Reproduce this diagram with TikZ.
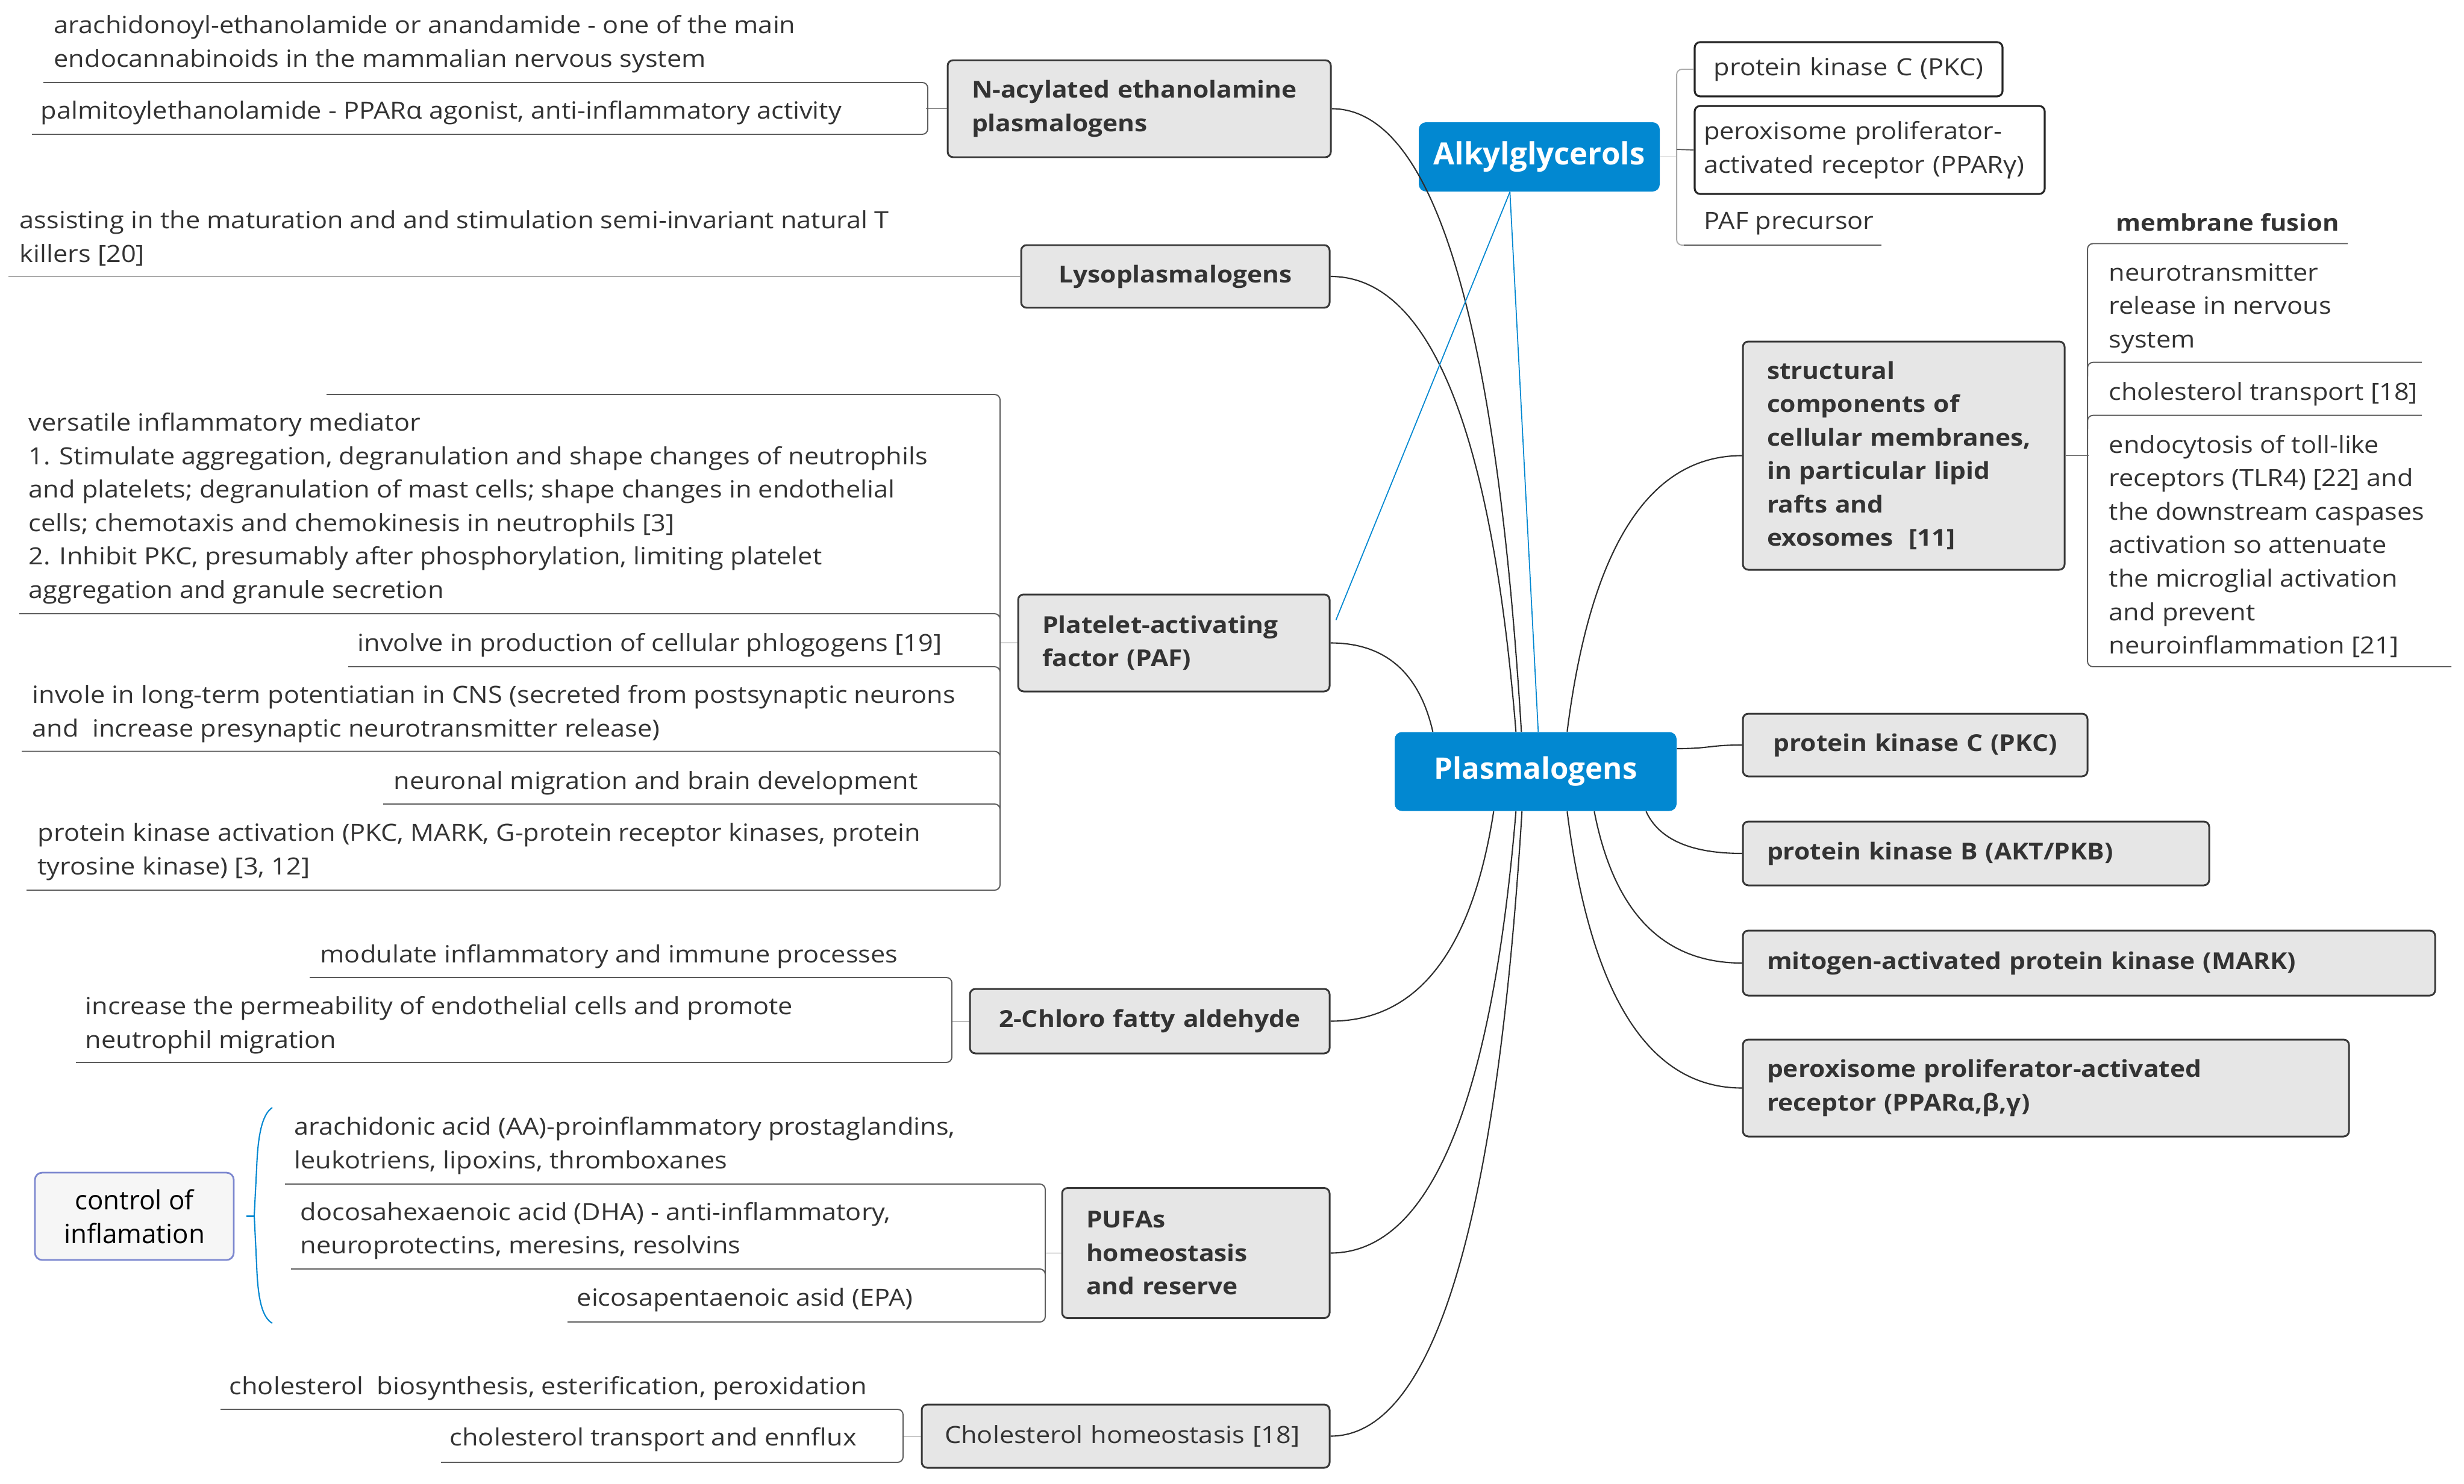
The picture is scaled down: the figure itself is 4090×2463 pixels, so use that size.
\documentclass[tikz,border=0pt]{standalone}
\usepackage{fontspec}
\setmainfont{Open Sans}[FakeStretch=1.1]
\newfontfamily\plainfont{Open Sans}
\usetikzlibrary{calc}
\definecolor{boxfill}{HTML}{E6E6E6}
\definecolor{boxline}{HTML}{383838}
\definecolor{xblue}{HTML}{0288D1}
\definecolor{txt}{HTML}{333333}
\definecolor{ulc}{HTML}{5C5C5C}
\definecolor{ullight}{HTML}{ABABAB}
\definecolor{ctrlline}{HTML}{7C87CF}
\definecolor{ctrlfill}{HTML}{F6F6F6}
\newcommand\leaffont{\fontsize{11.2pt}{15.8pt}\selectfont}
\newcommand\boxfont{\fontsize{11pt}{15.8pt}\selectfont\bfseries}
\newcommand\xconn[2]{\draw[conn] let \p1=(#1), \p2=(#2) in (\p1) .. controls ({\x1+0.533*(\x2-\x1)},\y1) and ({\x2-0.133*(\x2-\x1)},{\y2+0.667*(\y1-\y2)}) .. (\p2);}
\begin{document}
\begin{tikzpicture}[x=0.1mm,y=-0.1mm,
  leaf/.style={anchor=west, align=left, inner sep=0pt, text=txt, font=\leaffont},
  gbox/.style={draw=boxline, fill=boxfill, line width=0.85pt, rounded corners=0.9mm, inner xsep=4mm, inner ysep=0pt, text=txt, font=\boxfont, align=left},
  wbox/.style={draw=black!85, fill=white, line width=0.9pt, rounded corners=0.9mm, inner ysep=0pt, text=txt, font=\leaffont},
  bbox/.style={fill=xblue, rounded corners=1.2mm, text=white, font=\plainfont\fontsize{14pt}{17pt}\selectfont\bfseries, inner sep=0pt},
  ul/.style={draw=ulc, line width=0.55pt, rounded corners=0.9mm},
  ull/.style={draw=ullight, line width=0.55pt, rounded corners=0.9mm},
  conn/.style={draw=black!82, line width=0.6pt},
  bl/.style={draw=xblue, line width=0.5pt},
]
\useasboundingbox (0,0) rectangle (4090,2463);

% central nodes
\node[bbox, minimum width=46.8mm, minimum height=13.1mm] (plas) at (2549,1281) {Plasmalogens};
\node[bbox, minimum width=40mm, minimum height=11.5mm, font=\plainfont\fontsize{14.5pt}{17pt}\selectfont\bfseries] (alkyl) at (2555,260.5) {Alkylglycerols};

% left boxes
\node[gbox, text width=55.6mm, minimum height=16.1mm] (nacyl) at (1891,180.5) {N-acylated ethanolamine\\plasmalogens};
\node[gbox, text width=43.2mm, minimum height=10.4mm, align=center] (lyso) at (1951,459) {Lysoplasmalogens};
\node[gbox, text width=43.7mm, minimum height=16.1mm] (paf) at (1948.5,1067.5) {Platelet-activating\\factor (PAF)};
\node[gbox, text width=51.7mm, minimum height=10.7mm, align=center] (chloro) at (1908.5,1695.5) {2-Chloro fatty aldehyde};
\node[gbox, text width=36.4mm, minimum height=21.6mm] (pufa) at (1985,2080.5) {PUFAs\\homeostasis\\and reserve};
\node[gbox, text width=60.1mm, inner xsep=3.8mm, minimum height=10.5mm, font=\leaffont] (chol) at (1868.5,2384.5) {Cholesterol homeostasis [18]};

% right boxes
\node[gbox, text width=45.4mm, minimum height=37.9mm] (struct) at (3160,756.5) {structural\\components of\\cellular membranes,\\in particular lipid\\rafts and\\exosomes\ \ [11]};
\node[gbox, text width=49.2mm, minimum height=10.4mm, align=center] (pkc) at (3179,1237) {protein kinase C (PKC)};
\node[gbox, text width=69.4mm, minimum height=10.6mm] (pkb) at (3280,1417) {protein kinase B (AKT/PKB)};
\node[gbox, text width=106.9mm, minimum height=10.8mm] (mark) at (3467.5,1599) {mitogen-activated protein kinase (MARK)};
\node[gbox, text width=92.6mm, minimum height=16.1mm] (ppar) at (3396,1806.5) {peroxisome proliferator-activated\\receptor (PPARα,β,γ)};
\node[wbox, inner xsep=2mm, text width=47.1mm, align=center, minimum height=9mm] (apkc) at (3068.5,115) {protein kinase C (PKC)};
\node[wbox, inner xsep=1.5mm, text width=55.1mm, align=left, minimum height=14.6mm] (appar) at (3103.5,249) {peroxisome proliferator-\\activated receptor (PPARγ)};

% control box
\node[draw=ctrlline, fill=ctrlfill, line width=0.8pt, rounded corners=1.2mm, minimum width=33mm, minimum height=14.5mm, align=center, font=\plainfont\fontsize{12.5pt}{16pt}\selectfont, text=black, inner sep=0pt] (ctrl) at (223,2019.5) {control of\\inflamation};

% leaves
\node[leaf] (a1) at (89,73) {arachidonoyl-ethanolamide or anandamide - one of the main\\endocannabinoids in the mammalian nervous system};
\node[leaf] (a2) at (67,187) {palmitoylethanolamide - PPARα agonist, anti-inflammatory activity};
\node[leaf] (b1) at (32,395.5) {assisting in the maturation and and stimulation semi-invariant natural T\\killers [20]};
\node[leaf] (c1) at (47,844) {versatile inflammatory mediator\\1. Stimulate aggregation, degranulation and shape changes of neutrophils\\and platelets; degranulation of mast cells; shape changes in endothelial\\cells; chemotaxis and chemokinesis in neutrophils [3]\\2. Inhibit PKC, presumably after phosphorylation, limiting platelet\\aggregation and granule secretion};
\node[leaf] (c2) at (593,1071) {involve in production of cellular phlogogens [19]};
\node[leaf] (c3) at (53,1185) {invole in long-term potentiatian in CNS (secreted from postsynaptic neurons\\and\ \ increase presynaptic neurotransmitter release)};
\node[leaf] (c4) at (653,1300) {neuronal migration and brain development};
\node[leaf] (c5) at (62,1414) {protein kinase activation (PKC, MARK, G-protein receptor kinases, protein\\tyrosine kinase) [3, 12]};
\node[leaf] (d1) at (531,1588) {modulate inflammatory and immune processes};
\node[leaf] (d2) at (141,1702) {increase the permeability of endothelial cells and promote\\neutrophil migration};
\node[leaf] (e1) at (488,1902) {arachidonic acid (AA)-proinflammatory prostaglandins,\\leukotriens, lipoxins, thromboxanes};
\node[leaf] (e2) at (498,2043.5) {docosahexaenoic acid (DHA) - anti-inflammatory,\\neuroprotectins, meresins, resolvins};
\node[leaf] (e3) at (957,2158.5) {eicosapentaenoic asid (EPA)};
\node[leaf] (f1) at (380,2304.7) {cholesterol\ \ biosynthesis, esterification, peroxidation};
\node[leaf] (f2) at (746,2390.6) {cholesterol transport and ennflux};
\node[leaf] (h1) at (2828,371) {PAF precursor};
\node[leaf, font=\fontsize{10.8pt}{15.8pt}\selectfont\bfseries] (g0) at (3512,369) {membrane fusion};
\node[leaf] (g1) at (3500,512) {neurotransmitter\\release in nervous\\system};
\node[leaf] (g2) at (3500,654) {cholesterol transport [18]};
\node[leaf] (g3) at (3500,907) {endocytosis of toll-like\\receptors (TLR4) [22] and\\the downstream caspases\\activation so attenuate\\the microglial activation\\and prevent\\neuroinflammation [21]};

% brackets / underlines
\draw[ul] (72,137) -- (1540,137) -- (1540,223) -- (53,223);
\draw[ul] ($(nacyl.west)+(-35,0)$) -- (nacyl.west);
\coordinate (lysoend) at (14,459);
\draw[ull] (lysoend) -- (lyso.west);
\draw[ul] (542,655) -- (1660,655) -- (1660,1478) -- (44,1478);
\draw[ul] (32,1019) -| (1660,1045);
\draw[ul] (578,1107) -| (1660,1130);
\draw[ul] (36,1247.5) -| (1660,1270);
\draw[ul] (636,1335) -| (1660,1360);
\draw[ul] ($(paf.west)+(-30,0)$) -- (paf.west);
\draw[ul] (514,1623) -- (1580,1623) -- (1580,1764) -- (126,1764);
\draw[ul] ($(chloro.west)+(-30,0)$) -- (chloro.west);
\draw[ul] (473,1966) -- (1735,1966) -- (1735,2195) -- (942,2195);
\draw[ul] (483,2107) -| (1735,2130);
\draw[ul] ($(pufa.west)+(-28,0)$) -- (pufa.west);
\draw[ul] (366,2340) -- (1499,2340) -- (1499,2428) -- (732,2428);
\draw[ul] ($(chol.west)+(-31,0)$) -- (chol.west);
\draw[ull] (apkc.west) -- (2783,115) -- (2783,407) -- (2800,407);
\draw[ul] (2795,407) -- (3123,407);
\draw[ull] (alkyl.east) -- (2783,260.5);
\draw[ul] (2783,248) -- (appar.west);
\draw[ul] (3897,404.5) -- (3465,404.5) -- (3465,1107) -- (4069,1107);
\draw[ul] (4020,601.7) -| (3465,625);
\draw[ul] (4020,689.7) -| (3465,712);
\draw[ul] (struct.east) -- ++(38,0);

% curly bracket for control of inflamation
\draw[xblue, line width=0.6pt] (452,1839) .. controls (435,1850) and (428,1885) .. (426,1940) -- (422,2018) -- (426,2100) .. controls (428,2160) and (436,2188) .. (452,2197);
\draw[xblue, line width=0.9pt] (ctrl.east) ++(20,0) -- (422,2019.5);

% anchor points on Plasmalogens
\coordinate (pt1) at ($(plas.north west)+(64,0)$);
\coordinate (pt2) at ($(plas.north west)+(202,0)$);
\coordinate (pt3) at ($(plas.north west)+(211,0)$);
\coordinate (pt4) at ($(plas.north west)+(287,0)$);
\coordinate (pb1) at ($(plas.south west)+(165,0)$);
\coordinate (pb2) at ($(plas.south west)+(202,0)$);
\coordinate (pb3) at ($(plas.south west)+(212,0)$);
\coordinate (pb4) at ($(plas.south west)+(287,0)$);
\coordinate (pb5) at ($(plas.south west)+(332,0)$);
\coordinate (pb6) at ($(plas.south west)+(418,0)$);

\xconn{nacyl.east}{pt3}
\xconn{lyso.east}{pt2}
\xconn{paf.east}{pt1}
\xconn{struct.west}{pt4}
\xconn{chloro.east}{pb1}
\xconn{pufa.east}{pb2}
\xconn{chol.east}{pb3}
\xconn{ppar.west}{pb4}
\xconn{mark.west}{pb5}
\xconn{pkb.west}{pb6}
\draw[conn] ($(plas.east)+(0,-38)$) .. controls +(55,0) and +(-55,0) .. (pkc.west);

% blue links from Alkylglycerols
\coordinate (ab) at ($(alkyl.south west)+(152,0)$);
\draw[bl] (ab) -- ($(paf.north east)+(9,44)$);
\draw[bl] (ab) -- ($(plas.north west)+(239,0)$);
\end{tikzpicture}
\end{document}
